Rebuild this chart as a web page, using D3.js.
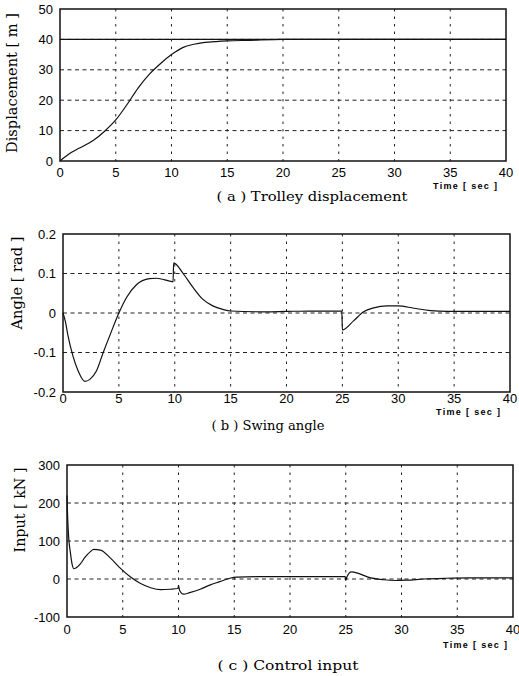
<!DOCTYPE html>
<html><head><meta charset="utf-8">
<script src="https://cdn.jsdelivr.net/npm/d3@7"></script>
<style>body{margin:0;background:#fff}svg{display:block}</style>
</head><body>
<script>
// ---------- data ----------
const xTickValues = [0, 5, 10, 15, 20, 25, 30, 35, 40];
const xTickLabels = ["0", "5", "10", "15", "20", "25", "30", "35", "40"];

// (a) trolley displacement [m]
const tA = [0, 0.5, 1, 1.5, 2, 3, 4, 5, 6, 7, 8, 9, 10, 11, 12, 13, 14, 15, 17, 20, 25, 30, 35, 40];
const dispA = [0, 1.5, 2.8, 3.8, 4.7, 6.8, 9.8, 13.5, 18.5, 24, 28.5, 32, 35, 37.3, 38.4, 39, 39.3, 39.5, 39.7, 40, 40, 40, 40, 40];
const tRefA = [0, 40];
const refA = [40, 40];
const yTicksA = [0, 10, 20, 30, 40, 50];
const yLabelsA = ["0", "10", "20", "30", "40", "50"];

// (b) swing angle [rad]
const tB = [0, 0.2, 0.45, 0.9, 1.35, 1.95, 2.4, 3, 3.6, 4.3, 5, 5.7, 6.55, 7.75, 8.35, 9.1, 9.85, 9.9, 10.75, 11.6, 12.5, 13.4, 14.3, 15, 18, 20, 22, 24.95, 25, 26, 26.9, 27.8, 29, 30, 31.4, 32.9, 34.4, 36, 40];
const angB = [0, -0.02, -0.058, -0.11, -0.146, -0.173, -0.168, -0.146, -0.10, -0.049, 0, 0.04, 0.071, 0.087, 0.088, 0.084, 0.079, 0.127, 0.10, 0.066, 0.035, 0.018, 0.009, 0.005, 0.003, 0.004, 0.005, 0.005, -0.043, -0.02, 0.003, 0.013, 0.018, 0.018, 0.012, 0.006, 0.004, 0.004, 0.004];
const yTicksB = [-0.2, -0.1, 0, 0.1, 0.2];
const yLabelsB = ["-0.2", "-0.1", "0", "0.1", "0.2"];

// (c) control input [kN]
const tC = [0, 0.05, 0.15, 0.3, 0.45, 0.62, 0.8, 1.2, 1.64, 2.1, 2.4, 3, 3.9, 4.8, 5.7, 6.6, 7.5, 8.4, 9.25, 9.95, 10.0, 10.1, 10.45, 11, 11.95, 12.8, 13.7, 14.6, 15.2, 17, 20, 24.95, 25, 25.1, 25.5, 26.2, 27, 28.4, 29.5, 30.5, 32, 34, 36, 40];
const inC = [220, 170, 110, 70, 40, 27, 29, 40, 58, 72, 78, 76, 55, 28, 5, -12, -23, -28, -27, -25, -17, -30, -40, -36, -27, -16, -7, 2, 5, 6, 6, 6, -4, 5, 19, 14, 5, -2, -4, -3, 0, 2, 3, 3];
const yTicksC = [-100, 0, 100, 200, 300];
const yLabelsC = ["-100", "0", "100", "200", "300"];

// ---------- layout ----------
const W = 519, H = 676;
const svg = d3.select("body").append("svg").attr("width", W).attr("height", H);

const panels = [
  {left: 60, right: 506, top: 9, bottom: 161, ydom: [0, 50], yt: yTicksA, yl: yLabelsA,
   series: [[tA, dispA], [tRefA, refA]],
   ylabel: "Displacement [ m ]", ylabX: 17, ylabY: 83, ylabLen: 140,
   xLabBase: 177, timeBase: 189, timeRight: 497,
   caption: "( a ) Trolley displacement", capX: 312, capBase: 201, capLen: 191},
  {left: 63, right: 510, top: 234, bottom: 392, ydom: [-0.2, 0.2], yt: yTicksB, yl: yLabelsB,
   series: [[tB, angB]],
   ylabel: "Angle [ rad ]", ylabX: 22, ylabY: 283, ylabLen: 93,
   xLabBase: 403, timeBase: 415, timeRight: 500,
   caption: "( b ) Swing angle", capX: 268, capBase: 430, capLen: 113},
  {left: 67, right: 513, top: 465, bottom: 617, ydom: [-100, 300], yt: yTicksC, yl: yLabelsC,
   series: [[tC, inC]],
   ylabel: "Input [ kN ]", ylabX: 25, ylabY: 510, ylabLen: 85,
   xLabBase: 634, timeBase: 648, timeRight: 507,
   caption: "( c ) Control input", capX: 288, capBase: 670, capLen: 141}
];

const sans = "'Liberation Sans', Arial, sans-serif";
const serif = "'DejaVu Serif', serif";

panels.forEach(p => {
  const x = d3.scaleLinear().domain([0, 40]).range([p.left, p.right]);
  const y = d3.scaleLinear().domain(p.ydom).range([p.bottom, p.top]);
  const g = svg.append("g");

  // grid
  g.selectAll(".hg").data(p.yt.slice(1, -1)).join("line")
    .attr("x1", p.left).attr("x2", p.right)
    .attr("y1", d => y(d)).attr("y2", d => y(d))
    .attr("stroke", "#222").attr("stroke-width", 1).attr("stroke-dasharray", "4,3.5");
  g.selectAll(".vg").data(xTickValues.slice(1, -1)).join("line")
    .attr("y1", p.top).attr("y2", p.bottom)
    .attr("x1", d => x(d)).attr("x2", d => x(d))
    .attr("stroke", "#222").attr("stroke-width", 1).attr("stroke-dasharray", "2.5,5");

  // series
  const line = d3.line().x(d => x(d[0])).y(d => y(d[1])).curve(d3.curveMonotoneX);
  p.series.forEach(([ts, vs]) => {
    g.append("path").datum(ts.map((t, i) => [t, vs[i]]))
      .attr("d", line).attr("fill", "none").attr("stroke", "#111").attr("stroke-width", 1.2);
  });

  // frame
  g.append("rect").attr("x", p.left).attr("y", p.top)
    .attr("width", p.right - p.left).attr("height", p.bottom - p.top)
    .attr("fill", "none").attr("stroke", "#111").attr("stroke-width", 1.5);

  // x tick labels
  g.selectAll(".xl").data(xTickValues).join("text")
    .attr("x", d => x(d)).attr("y", p.xLabBase)
    .attr("text-anchor", "middle").attr("font-family", sans).attr("font-size", 13)
    .text((d, i) => xTickLabels[i]);

  // y tick labels
  g.selectAll(".yl").data(p.yt).join("text")
    .attr("x", p.left - 7).attr("y", d => y(d)).attr("dy", "0.36em")
    .attr("text-anchor", "end").attr("font-family", sans).attr("font-size", 13)
    .text((d, i) => p.yl[i]);

  // Time label
  g.append("text").attr("x", p.timeRight - 64).attr("y", p.timeBase)
    .attr("font-family", sans).attr("font-weight", "bold")
    .attr("font-size", 9).attr("textLength", 64).attr("lengthAdjust", "spacing")
    .text("Time [ sec ]");

  // y axis title
  g.append("text")
    .attr("transform", `translate(${p.ylabX},${p.ylabY}) rotate(-90)`)
    .attr("text-anchor", "middle").attr("font-family", serif).attr("font-size", 14)
    .attr("textLength", p.ylabLen).attr("lengthAdjust", "spacingAndGlyphs")
    .text(p.ylabel);

  // caption
  g.append("text").attr("x", p.capX).attr("y", p.capBase)
    .attr("text-anchor", "middle").attr("font-family", serif).attr("font-size", 13.5)
    .attr("textLength", p.capLen).attr("lengthAdjust", "spacingAndGlyphs")
    .text(p.caption);
});
</script>
</body></html>
